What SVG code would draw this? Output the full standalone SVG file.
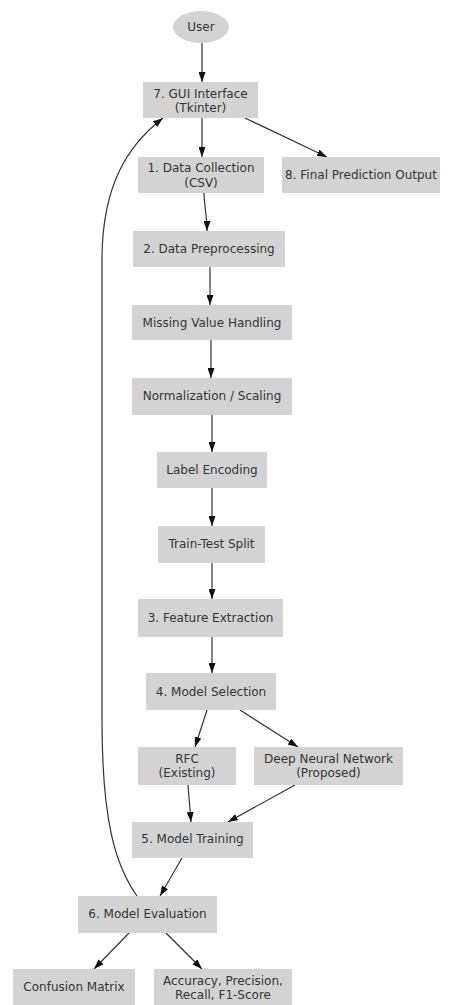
<svg xmlns="http://www.w3.org/2000/svg" width="449" height="1005" viewBox="0 0 449 1005">
<style>
.n{fill:#d3d3d3;stroke:none}
.t{font-family:"DejaVu Sans",sans-serif;font-size:12px;fill:#333;text-anchor:middle}
.e{fill:none;stroke:#333;stroke-width:1.2}
</style>
<defs>
<marker id="a" markerWidth="10" markerHeight="7" refX="10" refY="3.5" orient="auto" markerUnits="userSpaceOnUse">
<path d="M0,0 L10,3.5 L0,7 z" fill="#111"/>
</marker>
</defs>
<rect width="449" height="1005" fill="#fff"/>
<g id="edges">
<path class="e" marker-end="url(#a)" d="M202,43 L202,82"/>
<path class="e" marker-end="url(#a)" d="M202,118 L202,157"/>
<path class="e" marker-end="url(#a)" d="M245,118 L327,157"/>
<path class="e" marker-end="url(#a)" d="M204,193 C204,205 207,215 207,231"/>
<path class="e" marker-end="url(#a)" d="M210,267 L210,305"/>
<path class="e" marker-end="url(#a)" d="M211,340 L211,378"/>
<path class="e" marker-end="url(#a)" d="M212,415 L212,452"/>
<path class="e" marker-end="url(#a)" d="M212,488 L212,526"/>
<path class="e" marker-end="url(#a)" d="M212,563 L212,599"/>
<path class="e" marker-end="url(#a)" d="M212,637 L212,673"/>
<path class="e" marker-end="url(#a)" d="M207,710 L195,747"/>
<path class="e" marker-end="url(#a)" d="M240,710 L298,747"/>
<path class="e" marker-end="url(#a)" d="M188,785 L191,822"/>
<path class="e" marker-end="url(#a)" d="M295,785 L228,822"/>
<path class="e" marker-end="url(#a)" d="M182,858 L160,896"/>
<path class="e" marker-end="url(#a)" d="M129,933 L94,969"/>
<path class="e" marker-end="url(#a)" d="M166,933 L202,969"/>
<path class="e" marker-end="url(#a)" d="M137,896 C115,865 102,820 102,720 L102,260 C102,185 128,145 163,118"/>
</g>
<g id="user"><ellipse class="n" cx="201" cy="27" rx="28" ry="16"/><text class="t" x="201" y="31">User</text></g>
<g id="gui"><rect class="n" x="143" y="82" width="115" height="36"/><text class="t" x="200.5" y="98">7. GUI Interface</text><text class="t" x="200.5" y="112">(Tkinter)</text></g>
<g id="collect"><rect class="n" x="138" y="157" width="126" height="36"/><text class="t" x="201" y="172">1. Data Collection</text><text class="t" x="201" y="187">(CSV)</text></g>
<g id="final"><rect class="n" x="282" y="157" width="158" height="36"/><text class="t" x="361" y="179">8. Final Prediction Output</text></g>
<g id="preproc"><rect class="n" x="133" y="231" width="152" height="36"/><text class="t" x="209" y="253">2. Data Preprocessing</text></g>
<g id="missing"><rect class="n" x="132" y="305" width="160" height="35"/><text class="t" x="212" y="327">Missing Value Handling</text></g>
<g id="norm"><rect class="n" x="132" y="378" width="160" height="37"/><text class="t" x="212" y="400">Normalization / Scaling</text></g>
<g id="label"><rect class="n" x="157" y="452" width="110" height="36"/><text class="t" x="212" y="474">Label Encoding</text></g>
<g id="split"><rect class="n" x="158" y="526" width="107" height="37"/><text class="t" x="211.5" y="548">Train-Test Split</text></g>
<g id="feature"><rect class="n" x="138" y="599" width="145" height="38"/><text class="t" x="210.5" y="622">3. Feature Extraction</text></g>
<g id="select"><rect class="n" x="146" y="673" width="130" height="37"/><text class="t" x="211" y="696">4. Model Selection</text></g>
<g id="rfc"><rect class="n" x="138" y="747" width="98" height="38"/><text class="t" x="187" y="763">RFC</text><text class="t" x="187" y="777">(Existing)</text></g>
<g id="dnn"><rect class="n" x="254" y="747" width="149" height="38"/><text class="t" x="328.5" y="763">Deep Neural Network</text><text class="t" x="328.5" y="777">(Proposed)</text></g>
<g id="train"><rect class="n" x="132" y="822" width="121" height="36"/><text class="t" x="192.5" y="843">5. Model Training</text></g>
<g id="eval"><rect class="n" x="78" y="896" width="139" height="37"/><text class="t" x="147.5" y="918">6. Model Evaluation</text></g>
<g id="confusion"><rect class="n" x="13" y="969" width="122" height="36"/><text class="t" x="74" y="991">Confusion Matrix</text></g>
<g id="metrics"><rect class="n" x="154" y="969" width="138" height="36"/><text class="t" x="223" y="985">Accuracy, Precision,</text><text class="t" x="223" y="999">Recall, F1-Score</text></g>
</svg>
